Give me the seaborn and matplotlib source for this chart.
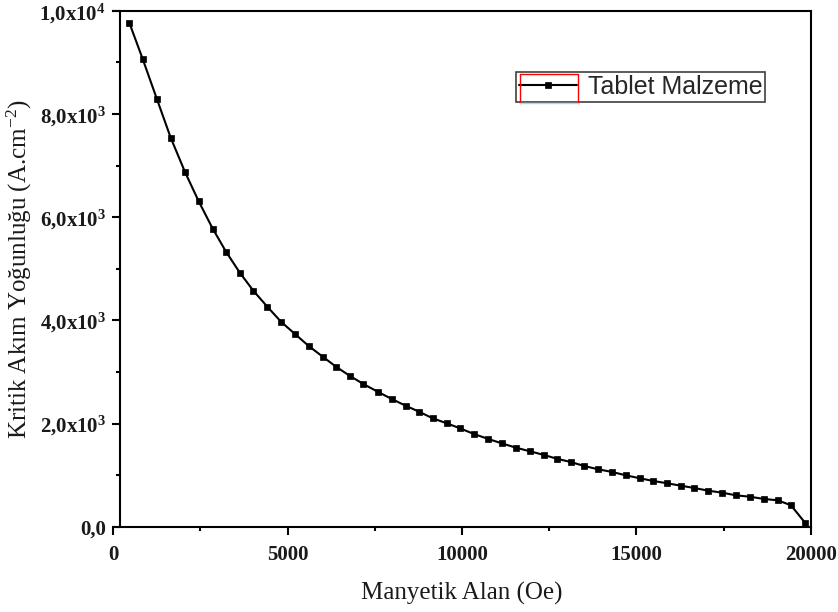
import matplotlib
matplotlib.use('Agg')
import matplotlib.pyplot as plt
import seaborn as sns
import pandas as pd
from matplotlib.ticker import FixedLocator, MultipleLocator
from matplotlib.lines import Line2D
from matplotlib.font_manager import FontProperties

# ---- data ----
field_oe = [459, 843, 1253, 1646, 2056, 2449, 2851, 3232, 3625, 4015,
            4416, 4809, 5219, 5604, 6005, 6387, 6788, 7170, 7583, 7984,
            8385, 8767, 9160, 9561, 9943, 10344, 10754, 11139, 11549, 11950,
            12352, 12716, 13117, 13507, 13909, 14310, 14695, 15105, 15486, 15888,
            16272, 16662, 17063, 17465, 17858, 18259, 18660, 19054, 19435, 19836]
jc = [9767, 9064, 8283, 7539, 6874, 6306, 5776, 5330, 4926, 4574,
      4264, 3973, 3729, 3502, 3295, 3101, 2921, 2766, 2616, 2475,
      2345, 2229, 2101, 2004, 1907, 1796, 1700, 1616, 1531, 1461,
      1390, 1318, 1254, 1176, 1112, 1060, 996, 938, 886, 841,
      795, 750, 698, 659, 608, 581, 537, 512, 415, 78]
series_name = 'Tablet Malzeme'
x_ticks = [0, 5000, 10000, 15000, 20000]
x_tick_labels = ['0', '5000', '10000', '15000', '20000']
y_ticks = [0, 2000, 4000, 6000, 8000, 10000]
y_tick_labels = ['0,0', '2,0x10$^{3}$', '4,0x10$^{3}$', '6,0x10$^{3}$',
                 '8,0x10$^{3}$', '1,0x10$^{4}$']
x_label = 'Manyetik Alan (Oe)'
y_label = 'Kritik Akım Yoğunluğu (A.cm$^{-2}$)'

sns.set_style('ticks')
plt.rcParams['font.family'] = ['Liberation Serif', 'DejaVu Serif']
plt.rcParams['mathtext.default'] = 'regular'

fig = plt.figure(figsize=(8.38, 6.12), dpi=100)
ax = fig.add_axes([113.3 / 838, 1 - 526.7 / 612, 697.4 / 838, 516 / 612])

df = pd.DataFrame({'H': field_oe, 'Jc': jc, 'series': series_name})
sns.lineplot(data=df, x='H', y='Jc', hue='series', palette=['black'],
             marker='s', markersize=4.6, markeredgecolor='black',
             markeredgewidth=0.5, linewidth=1.5, ax=ax)

ax.set_xlim(0, 20000)
ax.set_ylim(0, 10000)
ax.xaxis.set_major_locator(FixedLocator(x_ticks))
ax.set_xticklabels(x_tick_labels)
ax.yaxis.set_major_locator(FixedLocator(y_ticks))
ax.set_yticklabels(y_tick_labels)
ax.xaxis.set_minor_locator(MultipleLocator(2500))
ax.yaxis.set_minor_locator(MultipleLocator(1000))

for s in ['left', 'right', 'top', 'bottom']:
    ax.spines[s].set_visible(True)
    ax.spines[s].set_linewidth(1.5)
    ax.spines[s].set_color('black')
ax.spines['left'].set_position(('data', 190))

ax.tick_params(which='major', direction='out', length=6, width=1.5,
               colors='black', labelsize=15, top=False, right=False)
ax.tick_params(which='minor', direction='out', length=3, width=1.5,
               colors='black', top=False, right=False)
ax.tick_params(axis='x', which='major', pad=7)
ax.tick_params(axis='y', which='major', pad=4)
for lab in ax.get_xticklabels() + ax.get_yticklabels():
    lab.set_fontweight('bold')
    lab.set_color('#1a1a1a')

ax.set_xlabel(x_label, fontsize=18, labelpad=12, color='#1a1a1a')
ax.set_ylabel(y_label, fontsize=18, labelpad=4, color='#1a1a1a')

leg = ax.legend(loc='upper left', bbox_to_anchor=((516 - 113.3) / 697.4, (526.7 - 72) / 516),
                prop=FontProperties(family='Liberation Sans', size=18),
                frameon=True, fancybox=False, edgecolor='#404040', framealpha=1,
                borderpad=0.12, handlelength=2.3, handletextpad=0.45,
                borderaxespad=0)
leg.get_frame().set_linewidth(1.2)
for h in leg.legend_handles:
    h.set_markersize(4.6)
    h.set_linewidth(1.5)

# Origin-style selection box around legend handle
fw, fh = 838.0, 612.0
x0, x1, y0, y1 = 520 / fw, 578 / fw, 1 - 74 / fh, 1 - 102.5 / fh
for xs, ys, c in [([x0, x0], [y0, y1], 'red'), ([x0, x1], [y0, y0], 'red'),
                  ([x1, x1], [y0, y1], 'red'), ([x0, x1], [y1, y1], '#a8dde8')]:
    fig.add_artist(Line2D(xs, ys, transform=fig.transFigure, color=c, linewidth=1.0, zorder=10))

fig.savefig('out.png', dpi=100)
